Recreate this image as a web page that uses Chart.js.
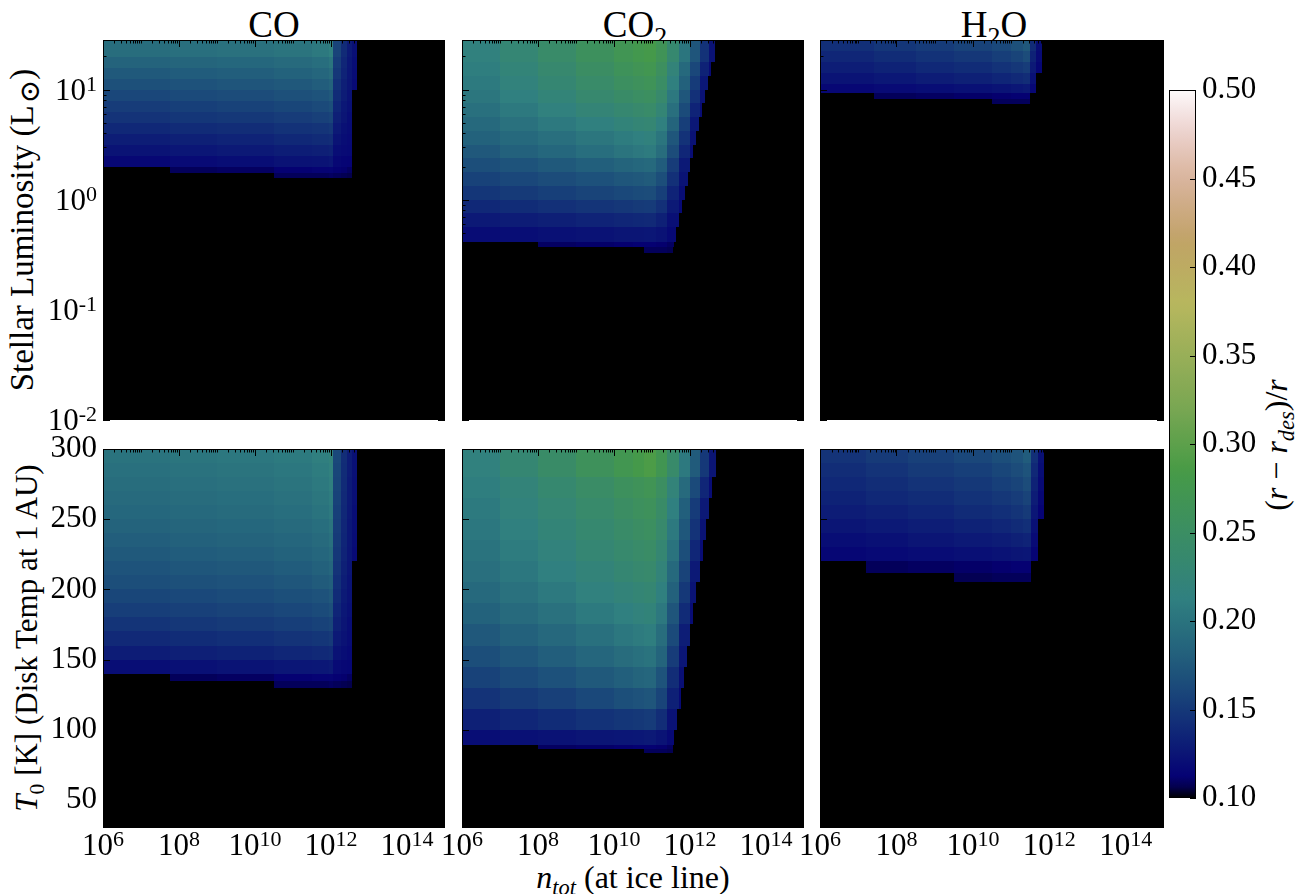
<!DOCTYPE html>
<html>
<head>
<meta charset="utf-8">
<script src="https://cdn.jsdelivr.net/npm/chart.js@4.4.0/dist/chart.umd.min.js"></script>
<style>
  html, body { margin: 0; padding: 0; background: #fff; }
  #fig { position: relative; width: 1307px; height: 894px; overflow: hidden;
         font-family: "Liberation Serif", "DejaVu Serif", serif; color: #000; }
  #fig canvas { position: absolute; }
  .lbl { position: absolute; white-space: nowrap; font-size: 32px; line-height: 1; }
  .ttl { font-size: 37px; }
  .ctr { transform: translate(-50%, -50%); }
  .rot { transform: translate(-50%, -50%) rotate(-90deg); }
  sub { font-size: 0.7em; vertical-align: baseline; position: relative; top: 0.3em; line-height: 0; }
  sub.sun { font-size: 0.85em; top: 0.2em; padding-left: 0.08em; }
</style>
</head>
<body>
<div id="fig">
  <div class="lbl ttl ctr" style="left:274px; top:24px;">CO</div>
  <div class="lbl ttl ctr" style="left:635px; top:24px;">CO<sub>2</sub></div>
  <div class="lbl ttl ctr" style="left:994px; top:24px;">H<sub>2</sub>O</div>
  <div class="lbl rot" style="left:22px; top:230px; font-size:33px;">Stellar Luminosity (L<sub class="sun">⊙</sub>)</div>
  <div class="lbl rot" style="left:26px; top:638px; font-size:31px;"><i>T</i><sub>0</sub> [K] (Disk Temp at 1 AU)</div>
  <div class="lbl ctr" style="left:633px; top:877px;"><i>n<sub>tot</sub></i> (at ice line)</div>
  <div class="lbl rot" style="left:1276px; top:445px;">(<i>r</i> − <i>r<sub>des</sub></i>)/<i>r</i></div>
</div>
<script>
// ---- values ----
// axis ticks (exponents for log axes)
const nTicks = [6, 8, 10, 12, 14];
const lumTicks = [-2, -1, 0, 1];
const tempTicks = [50, 100, 150, 200, 250, 300];
const cbarTicks = [0.10, 0.15, 0.20, 0.25, 0.30, 0.35, 0.40, 0.45, 0.50];

// column edges, log10 n_tot
const coNEdges = [6, 7.75, 9, 10.5, 11.5, 11.95, 12.05, 12.25, 12.42, 12.55, 12.68];
const co2NEdges = [6, 7, 8, 9, 10, 10.5, 10.8, 11.1, 11.4, 11.7, 12.0, 12.25, 12.5, 12.75];
const h2oLumNEdges = [6, 7.4, 8.5, 9.5, 10.5, 11.0, 11.3, 11.5, 11.65, 11.81];
const h2oTempNEdges = [6, 7.2, 8.3, 9.5, 10.5, 11.0, 11.3, 11.52, 11.7, 11.85];

// row edges: log10 L (top row) and T0 in K (bottom row)
const coLumRows = [0.195, 0.245, 0.3, 0.4, 0.5, 0.6, 0.7, 0.8, 0.9, 1.0, 1.1, 1.2, 1.3, 1.45];
const coTempRows = [130, 135, 140, 150, 160, 170, 180, 190, 200, 210, 220, 230, 240, 250, 260, 270, 280, 290, 300];
const co2LumRows = [-0.48, -0.43, -0.38, -0.25, -0.125, 0, 0.125, 0.25, 0.375, 0.5, 0.625, 0.75, 0.875, 1.0, 1.125, 1.25, 1.45];
const co2TempRows = [83.5, 86, 89, 100, 115, 130, 145, 160, 175, 190, 205, 220, 235, 250, 265, 280, 300];
const h2oLumRows = [0.868, 0.914, 0.968, 1.05, 1.15, 1.25, 1.35, 1.45];
const h2oTempRows = [205, 212, 220, 230, 240, 250, 260, 270, 280, 290, 300];

// slanted right edge of the CO2 region, per row (log10 n_tot)
const co2LumEdge = [11.55, 11.58, 11.63, 11.71, 11.79, 11.86, 11.94, 12.01, 12.09, 12.17, 12.24, 12.32, 12.40, 12.47, 12.55, 12.65];
const co2TempEdge = [11.54, 11.55, 11.59, 11.66, 11.75, 11.83, 11.92, 12.0, 12.08, 12.17, 12.25, 12.33, 12.42, 12.5, 12.59, 12.69];

// (r - r_des)/r per cell, bottom row first; 0 = nothing drawn
const coLumVals = [
  [0, 0, 0, .108, .108, .109, .108, .107, .106, 0],
  [0, .108, .109, .112, .113, .114, .112, .111, .109, 0],
  [.116, .118, .12, .123, .124, .126, .116, .114, .113, 0],
  [.124, .126, .128, .131, .132, .134, .12, .118, .117, 0],
  [.131, .133, .135, .138, .14, .142, .124, .12, .118, 0],
  [.138, .14, .142, .145, .147, .15, .128, .122, .119, 0],
  [.146, .148, .15, .153, .156, .159, .132, .125, .12, 0],
  [.153, .155, .157, .16, .163, .167, .136, .127, .122, 0],
  [.161, .163, .165, .168, .171, .176, .14, .13, .123, 0],
  [.168, .17, .172, .175, .179, .184, .144, .132, .125, .118],
  [.176, .178, .18, .183, .187, .193, .149, .135, .126, .119],
  [.184, .186, .188, .191, .195, .202, .153, .137, .127, .12],
  [.194, .196, .198, .201, .206, .213, .158, .14, .129, .121]
];
const coTempVals = [
  [0, 0, 0, .108, .108, .109, .108, .107, .106, 0],
  [0, .108, .109, .112, .113, .114, .112, .111, .109, 0],
  [.12, .122, .124, .126, .127, .129, .118, .116, .115, 0],
  [.13, .132, .134, .137, .139, .141, .123, .12, .117, 0],
  [.139, .141, .143, .146, .148, .151, .128, .123, .119, 0],
  [.147, .149, .151, .154, .157, .16, .133, .125, .12, 0],
  [.154, .156, .158, .161, .164, .168, .136, .127, .122, 0],
  [.16, .162, .164, .167, .17, .175, .14, .129, .123, 0],
  [.166, .168, .17, .173, .177, .181, .143, .131, .124, 0],
  [.171, .173, .175, .178, .182, .187, .146, .133, .125, 0],
  [.176, .178, .18, .183, .187, .192, .149, .135, .126, .118],
  [.18, .182, .184, .187, .191, .197, .151, .136, .127, .119],
  [.184, .186, .188, .191, .195, .201, .153, .137, .127, .12],
  [.188, .19, .192, .195, .2, .206, .155, .138, .128, .12],
  [.191, .193, .195, .198, .203, .209, .157, .139, .129, .121],
  [.194, .196, .198, .201, .206, .212, .159, .14, .129, .121],
  [.197, .199, .201, .204, .209, .215, .16, .141, .13, .122],
  [.2, .202, .204, .207, .212, .219, .162, .142, .13, .122]
];
const co2LumVals = [
  [0, 0, 0, 0, 0, 0, .108, .108, .107, 0, 0, 0, 0],
  [0, 0, .109, .11, .111, .112, .112, .111, .109, 0, 0, 0, 0],
  [.119, .12, .122, .123, .125, .125, .126, .123, .117, 0, 0, 0, 0],
  [.128, .13, .132, .135, .137, .138, .139, .133, .121, 0, 0, 0, 0],
  [.138, .141, .144, .147, .149, .151, .152, .144, .128, .117, 0, 0, 0],
  [.148, .151, .155, .159, .162, .164, .165, .155, .135, .12, 0, 0, 0],
  [.157, .161, .165, .169, .173, .175, .177, .166, .144, .124, 0, 0, 0],
  [.166, .171, .176, .181, .185, .188, .19, .178, .153, .128, 0, 0, 0],
  [.175, .182, .188, .195, .201, .205, .208, .194, .165, .137, .119, 0, 0],
  [.183, .19, .196, .203, .209, .213, .216, .202, .173, .145, .123, 0, 0],
  [.19, .198, .206, .214, .221, .226, .229, .214, .185, .154, .127, 0, 0],
  [.197, .206, .215, .225, .233, .238, .242, .226, .196, .164, .135, .119, 0],
  [.203, .213, .223, .235, .244, .25, .254, .238, .205, .173, .144, .123, 0],
  [.207, .218, .23, .242, .253, .259, .264, .247, .214, .182, .152, .127, 0],
  [.211, .223, .236, .249, .261, .268, .273, .255, .222, .19, .161, .134, .118],
  [.215, .228, .242, .257, .269, .277, .282, .265, .234, .202, .172, .145, .123]
];
const co2TempVals = [
  [0, 0, 0, 0, 0, 0, .108, .108, .107, 0, 0, 0, 0],
  [0, 0, .109, .11, .111, .112, .112, .111, .109, 0, 0, 0, 0],
  [.12, .122, .123, .125, .126, .127, .128, .124, .117, 0, 0, 0, 0],
  [.133, .137, .141, .145, .148, .15, .152, .142, .123, 0, 0, 0, 0],
  [.146, .151, .156, .162, .167, .17, .172, .159, .133, .117, 0, 0, 0],
  [.157, .163, .169, .176, .181, .185, .187, .171, .142, .121, 0, 0, 0],
  [.166, .173, .18, .187, .193, .197, .2, .185, .153, .126, 0, 0, 0],
  [.175, .182, .189, .197, .204, .208, .211, .194, .163, .131, 0, 0, 0],
  [.183, .191, .198, .207, .213, .218, .221, .205, .172, .14, .119, 0, 0],
  [.19, .198, .206, .215, .222, .227, .23, .214, .182, .15, .124, 0, 0],
  [.196, .204, .213, .222, .23, .235, .238, .222, .19, .158, .128, 0, 0],
  [.2, .209, .218, .229, .237, .242, .246, .23, .2, .166, .137, .119, 0],
  [.204, .214, .224, .234, .243, .249, .253, .238, .206, .174, .146, .124, 0],
  [.207, .218, .228, .24, .249, .256, .26, .244, .213, .181, .152, .128, 0],
  [.211, .222, .234, .246, .257, .263, .268, .252, .222, .191, .163, .137, .119],
  [.215, .23, .244, .26, .273, .282, .288, .271, .241, .206, .177, .15, .125]
];
const h2oLumVals = [
  [0, 0, 0, 0, .108, .108, .108, 0, 0],
  [0, .108, .109, .11, .111, .112, .112, 0, 0],
  [.116, .118, .12, .122, .124, .126, .128, .116, 0],
  [.124, .127, .13, .133, .136, .139, .142, .122, 0],
  [.131, .134, .138, .141, .145, .149, .153, .128, .115],
  [.137, .141, .145, .149, .154, .159, .165, .134, .118],
  [.143, .148, .152, .157, .162, .168, .175, .14, .12]
];
const h2oTempVals = [
  [0, 0, 0, .107, .108, .108, .108, 0, 0],
  [0, .108, .109, .11, .111, .112, .112, 0, 0],
  [.115, .117, .119, .121, .123, .125, .126, .114, 0],
  [.12, .122, .125, .128, .13, .133, .135, .118, 0],
  [.125, .128, .131, .134, .137, .14, .143, .122, 0],
  [.13, .133, .136, .14, .143, .147, .151, .126, .113],
  [.134, .138, .141, .145, .149, .153, .158, .13, .116],
  [.138, .142, .146, .15, .155, .159, .165, .134, .118],
  [.142, .146, .151, .155, .16, .165, .171, .138, .12],
  [.146, .151, .156, .161, .166, .171, .178, .143, .122]
];

// ---- axis ranges ----
const N_MIN = 6, N_MAX = 15;
const LUM_MIN = -2, LUM_MAX = 1.45;
const T_MIN = 30, T_MAX = 300;
const V_MIN = 0.1, V_MAX = 0.5;

// ---- layout ----
const FONT = '"Liberation Serif", "DejaVu Serif", serif';
const FS = 31;
const PANEL_LEFT = [103, 462, 820], PANEL_W = [342, 342, 344];
const PANEL_TOP = [40, 449], PANEL_H = [380, 379];
const PAD_L = 100, PAD_R = 30, PAD_T = 28, PAD_B = 50;

Chart.defaults.font.family = FONT;
Chart.defaults.color = '#000';

// gist_earth colormap segments
const EARTH = {
  r: [[0, 0], [.2824, .1882], [.4588, .2714], [.549, .4719], [.698, .7176], [.7882, .7553], [1, .9922]],
  g: [[0, 0], [.0275, 0], [.1098, .1893], [.1647, .3035], [.2078, .3841], [.2824, .502], [.5216, .6397],
      [.698, .7171], [.7882, .6392], [.8157, .6549], [.8667, .6991], [.898, .743], [.9412, .8275],
      [.9647, .8816], [.9961, .9733], [1, .9843]],
  b: [[0, 0], [.0039, .1684], [.0078, .2212], [.0275, .4329], [.0314, .4549], [.2824, .5004],
      [.4667, .2748], [.5451, .3205], [.7843, .3961], [.8941, .6651], [1, .9843]]
};
function seg(s, t) {
  for (let i = 1; i < s.length; i++) {
    if (t <= s[i][0]) {
      const [t0, v0] = s[i - 1], [t1, v1] = s[i];
      return v0 + (v1 - v0) * (t - t0) / (t1 - t0);
    }
  }
  return s[s.length - 1][1];
}
function cmap(v) {
  const t = Math.min(1, Math.max(0, (v - V_MIN) / (V_MAX - V_MIN)));
  return `rgb(${Math.round(seg(EARTH.r, t) * 255)},${Math.round(seg(EARTH.g, t) * 255)},${Math.round(seg(EARTH.b, t) * 255)})`;
}

const panels = [
  { col: 0, row: 0, nEdges: coNEdges, yEdges: coLumRows, vals: coLumVals },
  { col: 1, row: 0, nEdges: co2NEdges, yEdges: co2LumRows, vals: co2LumVals, rightEdge: co2LumEdge },
  { col: 2, row: 0, nEdges: h2oLumNEdges, yEdges: h2oLumRows, vals: h2oLumVals },
  { col: 0, row: 1, nEdges: coNEdges, yEdges: coTempRows, vals: coTempVals },
  { col: 1, row: 1, nEdges: co2NEdges, yEdges: co2TempRows, vals: co2TempVals, rightEdge: co2TempEdge },
  { col: 2, row: 1, nEdges: h2oTempNEdges, yEdges: h2oTempRows, vals: h2oTempVals }
];

function buildCells(p) {
  const yv = p.row === 0 ? (k => 10 ** k) : (k => k);
  const cells = [];
  p.vals.forEach((row, i) => {
    row.forEach((v, j) => {
      if (!v) return;
      const e0 = p.nEdges[j];
      let e1 = p.nEdges[j + 1];
      if (p.rightEdge) e1 = Math.min(e1, p.rightEdge[i]);
      if (e1 <= e0) return;
      cells.push({
        x: 10 ** ((e0 + e1) / 2), y: yv((p.yEdges[i] + p.yEdges[i + 1]) / 2),
        x0: 10 ** e0, x1: 10 ** e1, y0: yv(p.yEdges[i]), y1: yv(p.yEdges[i + 1]), v
      });
    });
  });
  return cells;
}

// "10" with a raised exponent
function drawPow(ctx, k, x, y, align) {
  const base = '10', exp = String(k);
  const fe = Math.round(FS * 0.7);
  ctx.font = `${FS}px ${FONT}`;
  const wb = ctx.measureText(base).width;
  ctx.font = `${fe}px ${FONT}`;
  const we = ctx.measureText(exp).width;
  const x0 = align === 'center' ? x - (wb + we) / 2 : x - wb - we;
  ctx.textAlign = 'left';
  ctx.textBaseline = 'alphabetic';
  ctx.font = `${FS}px ${FONT}`;
  ctx.fillText(base, x0, y);
  ctx.font = `${fe}px ${FONT}`;
  ctx.fillText(exp, x0 + wb, y - 9);
}

const heatPlugin = {
  id: 'heat',
  beforeDatasetsDraw(chart) {
    const { ctx, chartArea: a, scales: { x, y } } = chart;
    ctx.save();
    ctx.fillStyle = '#000';
    ctx.fillRect(a.left, a.top, a.right - a.left, a.bottom - a.top);
    ctx.beginPath();
    ctx.rect(a.left, a.top, a.right - a.left, a.bottom - a.top);
    ctx.clip();
    chart.data.datasets[0].data.forEach(c => {
      const x0 = Math.round(x.getPixelForValue(c.x0)), x1 = Math.round(x.getPixelForValue(c.x1));
      const yb = Math.round(y.getPixelForValue(c.y0)), yt = Math.round(y.getPixelForValue(c.y1));
      ctx.fillStyle = cmap(c.v);
      ctx.fillRect(x0, yt, x1 - x0, yb - yt);
    });
    ctx.restore();
  },
  afterDraw(chart) {
    const p = chart.options.plugins.heat.panel;
    const { ctx, chartArea: a, scales: { x, y } } = chart;
    ctx.save();
    ctx.strokeStyle = '#000';
    ctx.lineWidth = 1;
    ctx.beginPath();
    const xTick = (px, len) => {
      px = Math.round(px) + 0.5;
      ctx.moveTo(px, a.top); ctx.lineTo(px, a.top + len);
      ctx.moveTo(px, a.bottom); ctx.lineTo(px, a.bottom - len);
    };
    const yTick = (py, len) => {
      py = Math.round(py) + 0.5;
      ctx.moveTo(a.left, py); ctx.lineTo(a.left + len, py);
      ctx.moveTo(a.right, py); ctx.lineTo(a.right - len, py);
    };
    for (let k = N_MIN; k < N_MAX; k++) {
      for (let m = 1; m < 10; m++) {
        const len = m === 1 && nTicks.includes(k) ? 7 : 3.5;
        xTick(x.getPixelForValue(m * 10 ** k), len);
      }
    }
    if (p.row === 0) {
      for (let k = LUM_MIN; k < 2; k++) {
        for (let m = 1; m < 10; m++) {
          const v = m * 10 ** k;
          if (v > 10 ** LUM_MAX) break;
          yTick(y.getPixelForValue(v), m === 1 ? 7 : 3.5);
        }
      }
    } else {
      tempTicks.forEach(t => yTick(y.getPixelForValue(t), 7));
    }
    ctx.stroke();
    ctx.strokeRect(a.left + 0.5, a.top + 0.5, a.right - a.left - 1, a.bottom - a.top - 1);
    ctx.fillStyle = '#000';
    if (p.row === 1) {
      nTicks.forEach(k => drawPow(ctx, k, x.getPixelForValue(10 ** k), a.bottom + 27, 'center'));
    }
    if (p.row === 0 && p.col === 0) {
      lumTicks.forEach(k => drawPow(ctx, k, a.left - 6, y.getPixelForValue(10 ** k) + 10, 'right'));
    }
    ctx.restore();
  }
};

const fig = document.getElementById('fig');

function makeCanvas(left, top, w, h) {
  const cv = document.createElement('canvas');
  cv.width = w; cv.height = h;
  cv.style.left = left + 'px'; cv.style.top = top + 'px';
  cv.style.width = w + 'px'; cv.style.height = h + 'px';
  fig.appendChild(cv);
  return cv;
}

function drawPanels() {
  panels.forEach(p => {
    const w = PANEL_W[p.col] + PAD_L + PAD_R, h = PANEL_H[p.row] + PAD_T + PAD_B;
    const cv = makeCanvas(PANEL_LEFT[p.col] - PAD_L, PANEL_TOP[p.row] - PAD_T, w, h);
    const yScale = p.row === 0
      ? { type: 'logarithmic', min: 10 ** LUM_MIN, max: 10 ** LUM_MAX, ticks: { display: false } }
      : {
          type: 'linear', min: T_MIN, max: T_MAX,
          afterBuildTicks: s => { s.ticks = tempTicks.map(v => ({ value: v })); },
          ticks: { display: p.col === 0, autoSkip: false, padding: 6, font: { size: FS, family: FONT }, color: '#000', callback: v => String(v) }
        };
    new Chart(cv, {
      type: 'scatter',
      data: { datasets: [{ data: buildCells(p), pointRadius: 0, pointHoverRadius: 0 }] },
      options: {
        responsive: false, animation: false, events: [],
        layout: { padding: { top: PAD_T, right: PAD_R, left: 0, bottom: 0 } },
        plugins: { legend: { display: false }, tooltip: { enabled: false }, heat: { panel: p } },
        scales: {
          x: {
            type: 'logarithmic', min: 10 ** N_MIN, max: 10 ** N_MAX,
            grid: { display: false, drawTicks: false }, border: { display: false },
            ticks: { display: false },
            afterFit: s => { s.height = PAD_B; }
          },
          y: Object.assign(yScale, {
            position: 'left',
            grid: { display: false, drawTicks: false }, border: { display: false },
            afterFit: s => { s.width = PAD_L; }
          })
        }
      },
      plugins: [heatPlugin]
    });
  });
}

// ---- colorbar ----
const CB_LEFT = 1169, CB_W = 27, CB_TOP = 90, CB_H = 708, CB_PAD = 28, CB_AXIS = 90;

function cbarGradient(chart) {
  const a = chart.chartArea;
  if (!a) return '#000';
  const g = chart.ctx.createLinearGradient(0, a.bottom, 0, a.top);
  for (let i = 0; i <= 64; i++) g.addColorStop(i / 64, cmap(V_MIN + (V_MAX - V_MIN) * i / 64));
  return g;
}

const cbarPlugin = {
  id: 'cbarFrame',
  afterDraw(chart) {
    const { ctx, chartArea: a, scales: { y } } = chart;
    ctx.save();
    ctx.strokeStyle = '#000';
    ctx.lineWidth = 1;
    ctx.beginPath();
    cbarTicks.forEach(v => {
      const py = Math.round(y.getPixelForValue(v)) + 0.5;
      ctx.moveTo(a.right, py); ctx.lineTo(a.right - 6, py);
    });
    ctx.stroke();
    ctx.strokeRect(a.left + 0.5, a.top + 0.5, a.right - a.left - 1, a.bottom - a.top - 1);
    ctx.restore();
  }
};

function drawColorbar() {
  const cbCanvas = makeCanvas(CB_LEFT - 2, CB_TOP - CB_PAD, CB_W + 2 + CB_AXIS, CB_H + 2 * CB_PAD);
  new Chart(cbCanvas, {
    type: 'bar',
    data: {
      labels: [''],
      datasets: [{ data: [[V_MIN, V_MAX]], backgroundColor: c => cbarGradient(c.chart), borderWidth: 0, barPercentage: 1, categoryPercentage: 1 }]
    },
    options: {
      responsive: false, animation: false, events: [],
      layout: { padding: { left: 2, top: CB_PAD, bottom: CB_PAD, right: 0 } },
      plugins: { legend: { display: false }, tooltip: { enabled: false } },
      scales: {
        x: { display: false },
        y: {
          position: 'right', min: V_MIN, max: V_MAX,
          grid: { display: false, drawTicks: false }, border: { display: false },
          afterBuildTicks: s => { s.ticks = cbarTicks.map(v => ({ value: v })); },
          ticks: { autoSkip: false, padding: 6, font: { size: FS, family: FONT }, color: '#000', callback: v => v.toFixed(2) },
          afterFit: s => { s.width = CB_AXIS; }
        }
      }
    },
    plugins: [cbarPlugin]
  });
}

function render() { drawPanels(); drawColorbar(); }
Promise.all([
  document.fonts.load(`${FS}px "Liberation Serif"`),
  document.fonts.load(`italic ${FS}px "Liberation Serif"`)
]).then(render, render);
</script>
</body>
</html>
